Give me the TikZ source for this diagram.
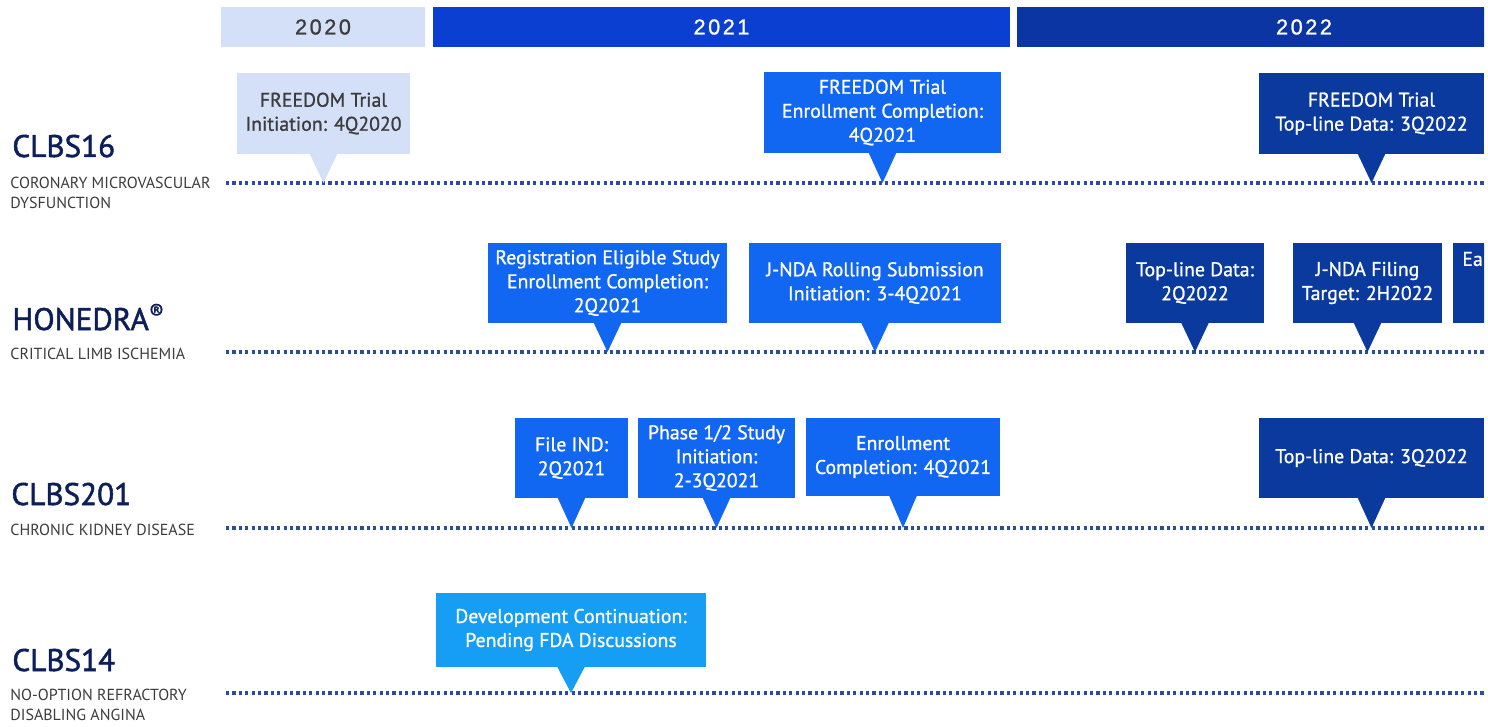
\documentclass[tikz,border=0pt]{standalone}
\usepackage{fontspec}
\setmainfont{PT Sans}
\newfontfamily\boxfont[FakeBold=1]{PT Sans}
\newfontfamily\drugfont[FakeBold=1.6]{PT Sans}
\newfontfamily\yearfont[LetterSpace=12, FakeBold=1]{Liberation Sans}
\usetikzlibrary{positioning}

\definecolor{yrlight}{HTML}{D4E0F8}
\definecolor{yrmid}{HTML}{0B3FD1}
\definecolor{yrdark}{HTML}{0A35A2}
\definecolor{cbright}{HTML}{1166F2}
\definecolor{cnavy}{HTML}{0B3A9E}
\definecolor{ccyan}{HTML}{169EF4}
\definecolor{greytext}{HTML}{3C3C3C}
\definecolor{labelnavy}{HTML}{0D1F5B}
\definecolor{dotblue}{HTML}{2B4D9E}

\tikzset{
  year/.style={inner sep=0pt, minimum height=20pt, font=\yearfont\fontsize{10.8pt}{12pt}\selectfont},
  callout/.style={inner sep=0pt, align=center, font=\boxfont\fontsize{9.9pt}{12pt}\selectfont},
  lightbox/.style={callout, fill=yrlight, text=greytext},
  brightbox/.style={callout, fill=cbright, text=white},
  navybox/.style={callout, fill=cnavy, text=white},
  cyanbox/.style={callout, fill=ccyan, text=white},
  drug/.style={anchor=base west, inner sep=0pt, text=labelnavy, font=\drugfont\fontsize{15.6pt}{17pt}\selectfont},
  disease/.style={anchor=west, inner sep=0pt, align=left, text=greytext, font=\fontsize{8pt}{10pt}\selectfont},
  timeline/.style={dotblue, line width=1.6pt, dash pattern=on 1.6pt off 1.6pt}
}

\begin{document}
\begin{tikzpicture}[x=0.5pt, y=-0.5pt]
\useasboundingbox (0,0) rectangle (1488,727);
\clip (0,0) rectangle (1484,727);

% years
\node[year, fill=yrlight, text=greytext, minimum width=102pt] (y2020) at (323,27) {2020};
\node[year, fill=yrmid, text=white, minimum width=288.5pt] (y2021) at (721.5,27) {2021};
\node[year, fill=yrdark, text=white, minimum width=287pt] (y2022) at (1304,27) {2022};

% rows
\node[drug] (clbs16) at (12,157) {CLBS16};
\node[disease] (cmd) at (10,193) {CORONARY MICROVASCULAR\\DYSFUNCTION};
\node[drug] (honedra) at (12,330) {HONEDRA\textsuperscript{®}};
\node[disease] (cli) at (10,354) {CRITICAL LIMB ISCHEMIA};
\node[drug] (clbs201) at (11,505) {CLBS201};
\node[disease] (ckd) at (10,530) {CHRONIC KIDNEY DISEASE};
\node[drug] (clbs14) at (12,671) {CLBS14};
\node[disease] (angina) at (10,705) {NO-OPTION REFRACTORY\\DISABLING ANGINA};

\coordinate (l1) at (226,183);
\coordinate (l2) at (226,352);
\coordinate (l3) at (226,528);
\coordinate (l4) at (226,693);
\foreach \l in {l1,l2,l3,l4}
  \draw[timeline] (\l) -- ++(1262,0);

% milestones
\node[lightbox, minimum width=86.5pt, minimum height=40.5pt] (b1) at (323.5,113.5) {FREEDOM Trial\\Initiation: 4Q2020};
\node[brightbox, minimum width=118.5pt, minimum height=40.5pt] (b2) at (882.5,112.5) {FREEDOM Trial\\Enrollment Completion:\\4Q2021};
\node[navybox, minimum width=112.5pt, minimum height=40.5pt] (b3) at (1371.5,113.5) {FREEDOM Trial\\Top-line Data: 3Q2022};

\node[brightbox, minimum width=119.5pt, minimum height=40pt] (b4) at (607.5,283) {Registration Eligible Study\\Enrollment Completion:\\2Q2021};
\node[brightbox, minimum width=126pt, minimum height=40pt] (b5) at (875,283) {J-NDA Rolling Submission\\Initiation: 3-4Q2021};
\node[navybox, minimum width=69pt, minimum height=40pt] (b6) at (1195,283) {Top-line Data:\\2Q2022};
\node[navybox, minimum width=74.5pt, minimum height=40pt] (b7) at (1367.5,283) {J-NDA Filing\\Target: 2H2022};
\node[navybox, minimum width=75pt, minimum height=40pt] (b8) at (1528,283) {};
\node[callout, text=white, anchor=west] (b8t) at (1462,259) {Ea};

\node[brightbox, minimum width=56.5pt, minimum height=40pt] (b9) at (571.5,458) {File IND:\\2Q2021};
\node[brightbox, minimum width=78.5pt, minimum height=40pt] (b10) at (716.5,458) {Phase 1/2 Study\\Initiation:\\2-3Q2021};
\node[brightbox, minimum width=97pt, minimum height=39pt] (b11) at (903,457) {Enrollment\\Completion: 4Q2021};
\node[navybox, minimum width=112.5pt, minimum height=40pt] (b12) at (1371.5,458) {Top-line Data: 3Q2022};

\node[cyanbox, minimum width=135pt, minimum height=37pt] (b13) at (571,630) {Development Continuation:\\Pending FDA Discussions};

% pointers
\foreach \b/\l/\c in {b1/l1/yrlight, b2/l1/cbright, b3/l1/cnavy, b4/l2/cbright, b5/l2/cbright,
    b6/l2/cnavy, b7/l2/cnavy, b9/l3/cbright, b10/l3/cbright, b11/l3/cbright, b12/l3/cnavy, b13/l4/ccyan}
  \fill[\c] ([xshift=-7pt,yshift=0.5pt]\b.south) -- (\b.south |- \l) -- ([xshift=7pt,yshift=0.5pt]\b.south) -- cycle;
\end{tikzpicture}
\end{document}
